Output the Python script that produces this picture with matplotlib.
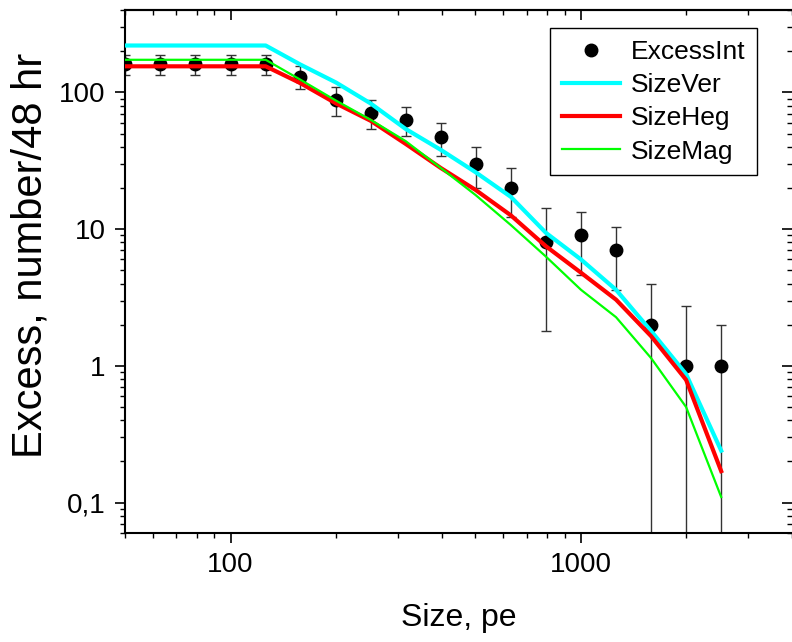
import matplotlib
matplotlib.use('Agg')
import matplotlib.pyplot as plt
from matplotlib.ticker import LogLocator, FixedLocator, FuncFormatter, NullFormatter

plt.rcParams['font.family'] = ['Liberation Sans', 'DejaVu Sans']

size = [50, 63, 79, 100, 126, 158, 200, 251, 316, 398, 501, 631, 794, 1000, 1259, 1585, 1995, 2512]
excess = [162, 162, 162, 162, 162, 130, 88, 71, 63, 47, 30, 20, 8, 9, 7, 2, 1, 1]
excess_err = [27, 27, 27, 27, 27, 25, 21, 17, 15, 13, 10, 7.8, 6.2, 4.4, 3.4, 2, 1.75, 1]
size_ver = [220, 220, 220, 220, 220, 160, 118, 83, 54, 38, 26, 17.2, 9.4, 6.0, 3.6, 1.8, 0.87, 0.24]
size_heg = [155, 155, 155, 155, 155, 117, 83, 62, 42, 28, 19.3, 12.6, 7.5, 4.8, 3.05, 1.65, 0.79, 0.17]
size_mag = [173, 173, 173, 173, 173, 124, 87, 63, 44, 28, 17.7, 10.7, 6.3, 3.6, 2.27, 1.14, 0.5, 0.11]

y_ticks = [0.1, 1, 10, 100]
y_ticklabels = ['0,1', '1', '10', '100']
x_ticks = [100, 1000]
x_ticklabels = ['100', '1000']

fig = plt.figure(figsize=(7.92, 6.42), dpi=100)
ax = fig.add_axes([125 / 792, 1 - 533 / 642, 667 / 792, 523 / 642])

eb = ax.errorbar(size, excess, yerr=excess_err, fmt='o', color='black', markersize=9,
                 ecolor='#333333', elinewidth=1.0, capsize=3.5, capthick=1.0, zorder=2)
l1, = ax.plot(size, size_ver, color='#00FFFF', lw=3, zorder=3)
l2, = ax.plot(size, size_heg, color='#FF0000', lw=3, zorder=3)
l3, = ax.plot(size, size_mag, color='#00FF00', lw=1.6, zorder=3)

ax.set_xscale('log')
ax.set_yscale('log')
ax.set_xlim(50, 4000)
ax.set_ylim(0.06, 400)

ax.xaxis.set_major_locator(FixedLocator(x_ticks))
ax.xaxis.set_major_formatter(FuncFormatter(lambda v, p: x_ticklabels[x_ticks.index(v)] if v in x_ticks else ''))
ax.xaxis.set_minor_locator(LogLocator(base=10, subs=range(2, 10)))
ax.xaxis.set_minor_formatter(NullFormatter())
ax.yaxis.set_major_locator(FixedLocator(y_ticks))
ax.yaxis.set_major_formatter(FuncFormatter(lambda v, p: y_ticklabels[y_ticks.index(v)] if v in y_ticks else ''))
ax.yaxis.set_minor_locator(LogLocator(base=10, subs=range(2, 10)))
ax.yaxis.set_minor_formatter(NullFormatter())

for s in ax.spines.values():
    s.set_linewidth(1.5)
ax.spines['right'].set_visible(False)
ax.tick_params(axis='x', which='major', direction='out', length=7, width=1.2, labelsize=20, pad=7)
ax.tick_params(axis='y', which='major', direction='out', length=7, width=1.2, labelsize=20, pad=7)
ax.tick_params(which='minor', direction='out', length=3.5, width=1.0)

# inward ticks on top and right, no labels
top = ax.secondary_xaxis('top')
top.xaxis.set_major_locator(FixedLocator(x_ticks))
top.xaxis.set_minor_locator(LogLocator(base=10, subs=range(2, 10)))
top.xaxis.set_major_formatter(NullFormatter())
top.xaxis.set_minor_formatter(NullFormatter())
top.tick_params(which='major', direction='in', length=7, width=1.2)
top.tick_params(which='minor', direction='in', length=3.5, width=1.0)
top.spines['top'].set_linewidth(1.5)

right = ax.secondary_yaxis('right')
right.yaxis.set_major_locator(FixedLocator(y_ticks))
right.yaxis.set_minor_locator(LogLocator(base=10, subs=range(2, 10)))
right.yaxis.set_major_formatter(NullFormatter())
right.yaxis.set_minor_formatter(NullFormatter())
right.tick_params(which='major', direction='in', length=7, width=1.2)
right.tick_params(which='minor', direction='in', length=3.5, width=1.0)
right.spines['right'].set_visible(False)

ax.set_xlabel('Size, pe', fontsize=23, labelpad=18)
ax.set_ylabel('Excess, number/48 hr', fontsize=30)
ax.yaxis.set_label_coords(-0.112, 0.53)

leg = ax.legend([eb.lines[0], l1, l2, l3], ['ExcessInt', 'SizeVer', 'SizeHeg', 'SizeMag'],
                loc='upper right', bbox_to_anchor=(0.9475, 0.9656), borderaxespad=0,
                fontsize=19, fancybox=False, framealpha=1, edgecolor='black',
                handlelength=2.2, labelspacing=0.35, borderpad=0.45, handletextpad=0.4)
leg.get_frame().set_linewidth(1.0)

fig.savefig('out.png', dpi=100)
